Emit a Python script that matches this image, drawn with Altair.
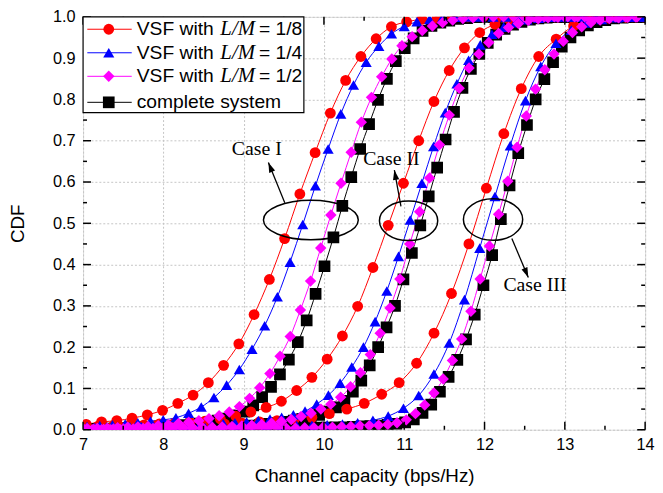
import altair as alt
import numpy as np
import pandas as pd

# ---------------- series definitions ----------------
SERIES = ["VSF with L/M = 1/8", "VSF with L/M = 1/4", "VSF with L/M = 1/2", "complete system"]
COLORS = ["#ff0000", "#0000ff", "#ff00ff", "#000000"]
SHAPES = ["circle", "triangle-up", "diamond", "square"]
SIZES = [120, 140, 130, 76]
DRAW_ORDER = ["complete system", "VSF with L/M = 1/8", "VSF with L/M = 1/4", "VSF with L/M = 1/2"]

X_TICKS = [7, 8, 9, 10, 11, 12, 13, 14]
X_MINOR = [7.5, 8.5, 9.5, 10.5, 11.5, 12.5, 13.5]
Y_TICKS = [0.0, 0.1, 0.2, 0.3, 0.4, 0.5, 0.6, 0.7, 0.8, 0.9, 1.0]
Y_MINOR = [0.05, 0.15, 0.25, 0.35, 0.45, 0.55, 0.65, 0.75, 0.85, 0.95]

# ---------------- CDF values ----------------
# Case I
c1_red_grid = (7.04, 0.19)
c1_red = [0.013, 0.019, 0.022, 0.028, 0.036, 0.047, 0.064, 0.084, 0.114, 0.156,
          0.208, 0.279, 0.364, 0.463, 0.571, 0.671, 0.767, 0.846, 0.904, 0.947,
          0.976, 0.988, 0.994, 0.997, 0.999] + [1.0] * 12
c1_blue_grid = (7.05, 0.158)
c1_blue = [0.008, 0.010, 0.012, 0.014, 0.017, 0.021, 0.024, 0.029, 0.040, 0.055,
           0.078, 0.108, 0.146, 0.195, 0.252, 0.322, 0.406, 0.497, 0.591, 0.680,
           0.765, 0.835, 0.890, 0.929, 0.959, 0.977, 0.988, 0.994, 0.997, 0.999] + [1.0] * 15
c1_mag_grid = (7.05, 0.1265)
c1_mag = [0.003, 0.003, 0.004, 0.005, 0.006, 0.007, 0.008, 0.010, 0.012, 0.015,
          0.018, 0.022, 0.027, 0.034, 0.043, 0.056, 0.076, 0.102, 0.136, 0.178,
          0.226, 0.290, 0.360, 0.440, 0.520, 0.597, 0.672, 0.745, 0.805, 0.855,
          0.898, 0.930, 0.952, 0.967, 0.978, 0.986, 0.992, 0.996, 0.998, 0.999] + [1.0] * 15
c1_blk_grid = (7.01, 0.111)
c1_blk = [0.002, 0.002, 0.003, 0.003, 0.004, 0.004, 0.005, 0.006, 0.007, 0.008,
          0.009, 0.011, 0.013, 0.015, 0.018, 0.022, 0.027, 0.034, 0.044, 0.059,
          0.079, 0.104, 0.134, 0.170, 0.212, 0.265, 0.329, 0.396, 0.466, 0.542,
          0.612, 0.680, 0.740, 0.799, 0.850, 0.893, 0.924, 0.948, 0.966, 0.978,
          0.986, 0.991, 0.995, 0.997, 0.999] + [1.0] * 18

# Case II
c2_red_grid = (7.0, 0.19)
c2_red = [0.008, 0.009, 0.010, 0.011, 0.012, 0.014, 0.016, 0.018, 0.021, 0.026,
          0.033, 0.043, 0.054, 0.069, 0.095, 0.127, 0.171, 0.227, 0.299, 0.393,
          0.495, 0.597, 0.700, 0.795, 0.870, 0.925, 0.962, 0.982, 0.992, 0.997,
          0.999] + [1.0] * 6
c2_blue_grid = (7.0, 0.1455)
c2_blue = [0.005, 0.005, 0.006, 0.006, 0.007, 0.007, 0.008, 0.009, 0.010, 0.011,
           0.012, 0.013, 0.015, 0.017, 0.019, 0.022, 0.026, 0.030, 0.036, 0.045,
           0.062, 0.084, 0.113, 0.152, 0.200, 0.262, 0.336, 0.420, 0.508, 0.597,
           0.686, 0.768, 0.838, 0.895, 0.932, 0.958, 0.975, 0.986, 0.993, 0.997,
           0.999] + [1.0] * 8
c2_mag_grid = (7.01, 0.123)
c2_mag = [0.001, 0.001, 0.001, 0.002, 0.002, 0.002, 0.003, 0.003, 0.003, 0.004,
          0.004, 0.005, 0.005, 0.006, 0.007, 0.008, 0.009, 0.011, 0.013, 0.016,
          0.020, 0.025, 0.032, 0.040, 0.050, 0.062, 0.079, 0.104, 0.138, 0.182,
          0.234, 0.295, 0.365, 0.450, 0.528, 0.610, 0.690, 0.762, 0.827, 0.876,
          0.910, 0.938, 0.960, 0.974, 0.984, 0.991, 0.995, 0.998, 0.999] + [1.0] * 8
c2_blk_grid = (7.0, 0.105)
c2_blk = [0.001, 0.001, 0.001, 0.001, 0.001, 0.002, 0.002, 0.002, 0.002, 0.003,
          0.003, 0.003, 0.004, 0.004, 0.005, 0.005, 0.006, 0.007, 0.008, 0.009,
          0.010, 0.012, 0.014, 0.016, 0.019, 0.022, 0.026, 0.031, 0.036, 0.044,
          0.054, 0.070, 0.092, 0.119, 0.156, 0.200, 0.248, 0.300, 0.364, 0.428,
          0.495, 0.565, 0.635, 0.703, 0.770, 0.828, 0.874, 0.910, 0.937, 0.957,
          0.971, 0.981, 0.988, 0.993, 0.996, 0.998, 0.999] + [1.0] * 10

# Case III
c3_red_grid = (7.025, 0.2173)
c3_red = [0.005, 0.006, 0.007, 0.008, 0.009, 0.010, 0.011, 0.012, 0.014, 0.016,
          0.019, 0.022, 0.026, 0.030, 0.039, 0.050, 0.064, 0.086, 0.114, 0.161,
          0.234, 0.330, 0.450, 0.585, 0.717, 0.826, 0.904, 0.946, 0.978, 0.992,
          0.997, 0.999, 1.0]
c3_blue_grid = (7.0, 0.19)
c3_blue = [0.002, 0.002, 0.003, 0.003, 0.003, 0.004, 0.004, 0.005, 0.005, 0.006,
           0.006, 0.007, 0.008, 0.009, 0.010, 0.011, 0.012, 0.014, 0.017, 0.023,
           0.033, 0.052, 0.083, 0.135, 0.210, 0.315, 0.440, 0.565, 0.688, 0.797,
           0.880, 0.936, 0.968, 0.985, 0.994, 0.998, 1.0]
c3_mag_grid = (7.0, 0.115)
c3_mag = [0.0, 0.0, 0.0, 0.0, 0.001, 0.001, 0.001, 0.001, 0.001, 0.001,
          0.001, 0.001, 0.002, 0.002, 0.002, 0.002, 0.002, 0.003, 0.003, 0.003,
          0.003, 0.004, 0.004, 0.004, 0.005, 0.005, 0.006, 0.006, 0.007, 0.008,
          0.009, 0.010, 0.011, 0.013, 0.017, 0.024, 0.039, 0.060, 0.089, 0.123,
          0.168, 0.220, 0.287, 0.365, 0.445, 0.522, 0.602, 0.684, 0.760, 0.825,
          0.872, 0.910, 0.941, 0.962, 0.976, 0.986, 0.992, 0.996, 0.998, 0.999, 1.0]
c3_blk_grid = (7.0, 0.1084)
c3_blk = [0.0, 0.0, 0.0, 0.0, 0.0, 0.0, 0.001, 0.001, 0.001, 0.001,
          0.001, 0.001, 0.001, 0.001, 0.001, 0.001, 0.002, 0.002, 0.002, 0.002,
          0.002, 0.003, 0.003, 0.003, 0.003, 0.004, 0.004, 0.005, 0.005, 0.006,
          0.006, 0.007, 0.008, 0.009, 0.010, 0.012, 0.014, 0.018, 0.025, 0.041,
          0.061, 0.092, 0.128, 0.169, 0.219, 0.279, 0.350, 0.423, 0.510, 0.592,
          0.670, 0.738, 0.800, 0.849, 0.890, 0.928, 0.950, 0.967, 0.979, 0.987,
          0.992, 0.996, 0.998, 0.999, 1.0]

CURVES = [
    ("I", SERIES[0], c1_red_grid, c1_red), ("I", SERIES[1], c1_blue_grid, c1_blue),
    ("I", SERIES[2], c1_mag_grid, c1_mag), ("I", SERIES[3], c1_blk_grid, c1_blk),
    ("II", SERIES[0], c2_red_grid, c2_red), ("II", SERIES[1], c2_blue_grid, c2_blue),
    ("II", SERIES[2], c2_mag_grid, c2_mag), ("II", SERIES[3], c2_blk_grid, c2_blk),
    ("III", SERIES[0], c3_red_grid, c3_red), ("III", SERIES[1], c3_blue_grid, c3_blue),
    ("III", SERIES[2], c3_mag_grid, c3_mag), ("III", SERIES[3], c3_blk_grid, c3_blk),
]

rows = []
for case, series, (x0, step), ys in CURVES:
    xs = np.round(x0 + step * np.arange(len(ys)), 4)
    for xv, yv in zip(xs, ys):
        rows.append({"case": case, "series": series, "curve": case + series,
                     "x": float(xv), "y": yv, "rank": DRAW_ORDER.index(series)})
df = pd.DataFrame(rows).sort_values(["rank", "curve", "x"]).reset_index(drop=True)

# ---------------- annotation tables ----------------
legend_df = pd.DataFrame({
    "series": SERIES,
    "txt_a": ["VSF with", "VSF with", "VSF with", "complete system"],
    "txt_b": ["L/M", "L/M", "L/M", ""],
    "txt_c": ["= 1/8", "= 1/4", "= 1/2", ""],
    "ly": [0.970, 0.913, 0.856, 0.793],
})
LEG_LINE = (7.053, 7.606)
LEG_MARK = 7.32
LEG_TXT = (7.668, 8.71, 9.19)
LEG_BOX = (7.0, 9.75, 0.768, 1.0)

case_df = pd.DataFrame({
    "label": ["Case I", "Case II", "Case III"],
    "ex": [9.837, 11.054, 12.106], "ey": [0.508, 0.506, 0.509],
    "ew": [96, 59, 60], "eh": [40, 40, 42],
    "tx0": [9.512, 10.959, 12.340], "ty0": [0.550, 0.541, 0.463],
    "tx1": [9.308, 10.877, 12.545], "ty1": [0.647, 0.629, 0.369],
    "ang": [337.8, 349.8, 157.3],
    "lx": [9.164, 10.840, 12.628], "lyy": [0.680, 0.656, 0.351],
})

# ---------------- scales / axes ----------------
W, H = 569, 418
x_scale = alt.Scale(domain=[7, 14], nice=False, zero=False)
y_scale = alt.Scale(domain=[0, 1], nice=False, zero=False)
GRID = dict(grid=True, gridColor="#c4c4c4", gridDash=[2, 2], gridWidth=1,
            ticks=False, tickSize=0, domain=False, labelColor="black",
            labelFont="Liberation Sans", labelFontSize=16.5, titleFont="Liberation Sans",
            titleFontSize=19, titleFontWeight="normal", titleColor="black", labelFlush=False)
x_axis = alt.Axis(values=X_TICKS, format="d", title="Channel capacity (bps/Hz)",
                  labelPadding=7, titleX=W / 2, titleY=46, titleBaseline="middle",
                  titleAlign="center", **GRID)
y_axis = alt.Axis(values=Y_TICKS, format=".1f", title="CDF", labelPadding=8,
                  titleX=-66, titleY=H / 2, titleAngle=270, titleAlign="center",
                  titleBaseline="middle", **GRID)


def X(f):
    return alt.X(f, type="quantitative", scale=x_scale, axis=x_axis)


def Y(f):
    return alt.Y(f, type="quantitative", scale=y_scale, axis=y_axis)


color_enc = alt.Color("series:N", scale=alt.Scale(domain=SERIES, range=COLORS), legend=None)
shape_enc = alt.Shape("series:N", scale=alt.Scale(domain=SERIES, range=SHAPES), legend=None)
size_enc = alt.Size("series:N", scale=alt.Scale(domain=SERIES, range=SIZES), legend=None)

base = alt.Chart(df)
lines = base.mark_line(strokeWidth=1, clip=True, interpolate="monotone").encode(
    x=X("x"), y=Y("y"), color=color_enc, detail="curve:N", order="x:Q")
points = base.mark_point(filled=True, opacity=1, clip=True, strokeWidth=0).encode(
    x=X("x"), y=Y("y"), color=color_enc, shape=shape_enc, size=size_enc)

# inward tick marks
xt_major = alt.Chart(pd.DataFrame({"t": X_TICKS}))
xt_minor = alt.Chart(pd.DataFrame({"t": X_MINOR}))
yt_major = alt.Chart(pd.DataFrame({"t": Y_TICKS}))
yt_minor = alt.Chart(pd.DataFrame({"t": Y_MINOR}))
tick_layers = []
for ch, ln in ((xt_major, 8), (xt_minor, 4)):
    tick_layers.append(ch.mark_rule(color="black", strokeWidth=1.5).encode(
        x=X("t"), y=alt.value(H), y2=alt.value(H - ln)))
    tick_layers.append(ch.mark_rule(color="black", strokeWidth=1.5).encode(
        x=X("t"), y=alt.value(0), y2=alt.value(ln)))
for ch, ln in ((yt_major, 8), (yt_minor, 4)):
    tick_layers.append(ch.mark_rule(color="black", strokeWidth=1.5).encode(
        y=Y("t"), x=alt.value(0), x2=alt.value(ln)))
    tick_layers.append(ch.mark_rule(color="black", strokeWidth=1.5).encode(
        y=Y("t"), x=alt.value(W), x2=alt.value(W - ln)))

# legend
leg_box = alt.Chart(pd.DataFrame({"a": [LEG_BOX[0]], "b": [LEG_BOX[1]],
                                  "c": [LEG_BOX[2]], "d": [LEG_BOX[3]]})).mark_rect(
    fill="white", stroke="black", strokeWidth=1.2).encode(
    x=X("a"), x2="b", y=Y("c"), y2="d")
leg_df2 = legend_df.assign(l0=LEG_LINE[0], l1=LEG_LINE[1], m=LEG_MARK,
                           ta=LEG_TXT[0], tb=LEG_TXT[1], tc=LEG_TXT[2])
leg = alt.Chart(leg_df2)
leg_line = leg.mark_rule(strokeWidth=1).encode(x=X("l0"), x2="l1", y=Y("ly"), color=color_enc)
leg_pts = leg.mark_point(filled=True, opacity=1, strokeWidth=0).encode(
    x=X("m"), y=Y("ly"), color=color_enc, shape=shape_enc, size=size_enc)
leg_ta = leg.mark_text(align="left", baseline="middle", font="Liberation Sans",
                       fontSize=19.5, color="black").encode(x=X("ta"), y=Y("ly"), text="txt_a:N")
leg_tb = leg.mark_text(align="left", baseline="middle", font="Liberation Serif",
                       fontSize=21, fontStyle="italic", color="black").encode(
    x=X("tb"), y=Y("ly"), text="txt_b:N")
leg_tc = leg.mark_text(align="left", baseline="middle", font="Liberation Sans",
                       fontSize=19.5, color="black").encode(x=X("tc"), y=Y("ly"), text="txt_c:N")


def ellipse_path(r):
    k = 0.5523
    return (f"M -1 0 C -1 {-k*r} {-k} {-r} 0 {-r} C {k} {-r} 1 {-k*r} 1 0 "
            f"C 1 {k*r} {k} {r} 0 {r} C {-k} {r} -1 {k*r} -1 0 Z")


ann = alt.Chart(case_df)
ell_layers = []
for i in range(len(case_df)):
    row = case_df.iloc[[i]]
    w, h = float(row["ew"].iloc[0]), float(row["eh"].iloc[0])
    ell_layers.append(alt.Chart(row).mark_point(
        shape=ellipse_path(h / w), size=w * w, filled=False, stroke="black",
        strokeWidth=1.5, opacity=1).encode(x=X("ex"), y=Y("ey")))
arrow_line = ann.mark_rule(color="black", strokeWidth=1.3).encode(
    x=X("tx0"), x2="tx1", y=Y("ty0"), y2="ty1")
arrow_head = ann.mark_point(shape="M 0 0 L -0.32 1 L 0.32 1 Z", size=400, filled=True,
                            color="black", opacity=1, strokeWidth=0).encode(
    x=X("tx1"), y=Y("ty1"), angle=alt.Angle("ang:Q", scale=None))
case_txt = ann.mark_text(font="Liberation Serif", fontSize=20, color="black",
                         align="center", baseline="middle").encode(
    x=X("lx"), y=Y("lyy"), text="label:N")

chart = alt.layer(
    lines, points, *tick_layers, leg_box, leg_line, leg_pts, leg_ta, leg_tb, leg_tc,
    *ell_layers, arrow_line, arrow_head, case_txt
).properties(
    width=W, height=H,
    autosize=alt.AutoSizeParams(type="none"),
    padding={"left": 76, "top": 6, "right": 10, "bottom": 55},
).configure_view(stroke="black", strokeWidth=1.6).configure(background="white")

chart.save("out.html", embed_options={"renderer": "svg", "actions": False})
